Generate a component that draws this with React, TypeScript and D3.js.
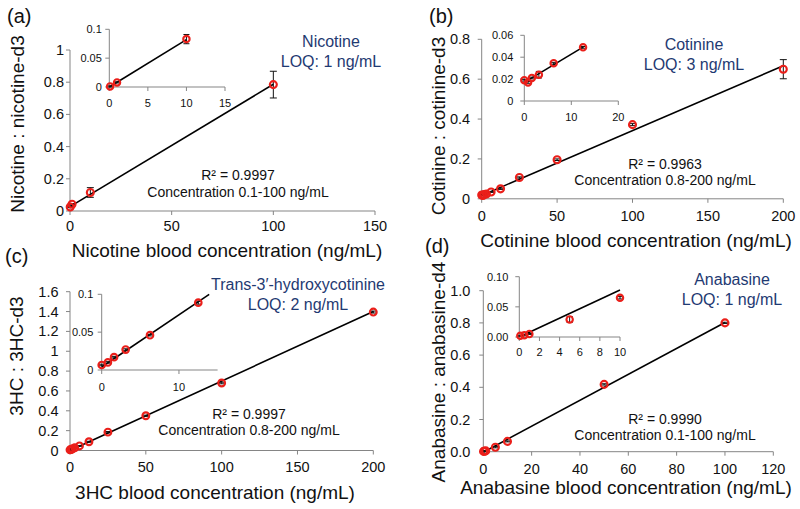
import React from "react";
import * as d3 from "d3";

// ================= DATA =================
// (a) Nicotine
const nicX = [0.1, 1, 10, 100];
const nicY = [0.025, 0.042, 0.115, 0.785];
const nicErr = [0.004, 0.004, 0.03, 0.083];
const nicFit = [0.0076, 0.027, 0, 100]; // slope, intercept, from, to
const nicInsetX = [0.1, 1, 10];
const nicInsetY = [0.001, 0.008, 0.083];
const nicInsetErr = [0.001, 0.001, 0.008];
const nicInsetFit = [0.0082, 0.0, 0, 10];
const nicXTicks = [0, 50, 100, 150];
const nicYTicks = [0, 0.2, 0.4, 0.6, 0.8, 1];
const nicInsetXTicks = [0, 5, 10, 15];
const nicInsetYTicks = [0, 0.05, 0.1];

// (b) Cotinine
const cotX = [0, 0.8, 1.6, 3.1, 6.25, 12.5, 25, 50, 100, 200];
const cotY = [0.019, 0.017, 0.021, 0.024, 0.034, 0.05, 0.107, 0.196, 0.372, 0.65];
const cotErr = [0.002, 0.002, 0.002, 0.003, 0.002, 0.003, 0.003, 0.004, 0.005, 0.048];
const cotFit = [0.00325, 0.017, 0, 200];
const cotInsetX = [0, 0.8, 1.6, 3.1, 6.25, 12.5];
const cotInsetY = [0.019, 0.017, 0.021, 0.024, 0.0345, 0.049];
const cotInsetErr = [0.0008, 0.0008, 0.0008, 0.003, 0.0008, 0.0008];
const cotInsetFit = [0.00258, 0.017, 0.1, 12.5];
const cotXTicks = [0, 50, 100, 150, 200];
const cotYTicks = [0, 0.2, 0.4, 0.6, 0.8];
const cotInsetXTicks = [0, 10, 20];
const cotInsetYTicks = [0, 0.02, 0.04, 0.06];

// (c) 3HC
const hcX = [0, 0.8, 1.6, 3.1, 6.25, 12.5, 25, 50, 100, 200];
const hcY = [0.007, 0.01, 0.017, 0.027, 0.046, 0.088, 0.185, 0.35, 0.68, 1.395];
const hcErr = [0.004, 0.004, 0.004, 0.004, 0.004, 0.005, 0.006, 0.006, 0.008, 0.01];
const hcFit = [0.007, 0.0, 0, 200];
const hcInsetX = [0, 0.8, 1.6, 3.1, 6.25, 12.5];
const hcInsetY = [0.0066, 0.01, 0.017, 0.027, 0.046, 0.089];
const hcInsetErr = [0.001, 0.001, 0.001, 0.001, 0.001, 0.002];
const hcInsetFit = [0.0069, 0.004, 0, 15];
const hcXTicks = [0, 50, 100, 150, 200];
const hcYTicks = [0, 0.2, 0.4, 0.6, 0.8, 1, 1.2, 1.4, 1.6];
const hcInsetXTicks = [0, 10];
const hcInsetYTicks = [0, 0.05, 0.1];

// (d) Anabasine
const anaX = [0.1, 0.5, 1, 5, 10, 50, 100];
const anaY = [0.002, 0.003, 0.005, 0.028, 0.064, 0.418, 0.8];
const anaErr = [0.002, 0.002, 0.002, 0.004, 0.003, 0.004, 0.004];
const anaFit = [0.00805, -0.003, 0, 100];
const anaInsetX = [0.1, 0.5, 1, 5, 10];
const anaInsetY = [0.002, 0.003, 0.005, 0.029, 0.065];
const anaInsetErr = [0.0008, 0.0008, 0.0008, 0.005, 0.002];
const anaInsetFit = [0.0078, 0.0, 0.2, 10];
const anaXTicks = [0, 20, 40, 60, 80, 100, 120];
const anaYTicks = [0, 0.2, 0.4, 0.6, 0.8, 1.0];
const anaInsetXTicks = [0, 2, 4, 6, 8, 10];
const anaInsetYTicks = [0, 0.05, 0.1];

// ================= STYLE =================
const AXIS = "#858585";
const RED = "#ea1f1a";
const NAVY = "#1f3a72";
const TXT = "#111";
const FONT = "Arial, 'Liberation Sans', Helvetica, sans-serif";

type AxesSpec = {
  xDomain: [number, number];
  xRange: [number, number];
  yDomain: [number, number];
  yRange: [number, number];
  xTicks: number[];
  yTicks: number[];
  yFmt: (v: number) => string;
  fontSize: number;
  xLabelDy: number;
  yLabelGap: number;
  x: number[];
  y: number[];
  err: number[];
  fit: number[];
  r: number;
  cap: number;
};

function Plot({ s }: { s: AxesSpec }) {
  const xs = d3.scaleLinear().domain(s.xDomain).range(s.xRange);
  const ys = d3.scaleLinear().domain(s.yDomain).range(s.yRange);
  const x0 = xs(s.xDomain[0]);
  const y0 = ys(s.yDomain[0]);
  const [m, b, from, to] = s.fit;
  const toClip = Math.min(to, (s.yDomain[1] - b) / m);
  const line = d3
    .line<number>()
    .x((v) => xs(v))
    .y((v) => ys(m * v + b));
  const tick = 4;
  return (
    <g>
      <line x1={x0} x2={xs(s.xDomain[1])} y1={y0} y2={y0} stroke={AXIS} strokeWidth={1} />
      <line x1={x0} x2={x0} y1={y0} y2={ys(s.yDomain[1])} stroke={AXIS} strokeWidth={1} />
      {s.xTicks.map((t, i) => (
        <g key={"xt" + i}>
          <line x1={xs(t)} x2={xs(t)} y1={y0} y2={y0 + tick} stroke={AXIS} />
          <text
            x={xs(t)}
            y={y0 + s.xLabelDy}
            textAnchor="middle"
            fontSize={s.fontSize}
            fontFamily={FONT}
            fill={TXT}
          >
            {String(t)}
          </text>
        </g>
      ))}
      {s.yTicks.map((t, i) => (
        <g key={"yt" + i}>
          <line x1={x0 - tick} x2={x0} y1={ys(t)} y2={ys(t)} stroke={AXIS} />
          <text
            x={x0 - s.yLabelGap}
            y={ys(t)}
            dy="0.35em"
            textAnchor="end"
            fontSize={s.fontSize}
            fontFamily={FONT}
            fill={TXT}
          >
            {s.yFmt(t)}
          </text>
        </g>
      ))}
      <path d={line([from, toClip]) || ""} stroke="#000" strokeWidth={1.6} fill="none" />
      {s.x.map((xv, i) => {
        const cx = xs(xv);
        const yt = ys(s.y[i] + s.err[i]);
        const yb = ys(s.y[i] - s.err[i]);
        return (
          <g key={"e" + i} stroke="#111" strokeWidth={1}>
            <line x1={cx} x2={cx} y1={yt} y2={yb} />
            <line x1={cx - s.cap} x2={cx + s.cap} y1={yt} y2={yt} />
            <line x1={cx - s.cap} x2={cx + s.cap} y1={yb} y2={yb} />
          </g>
        );
      })}
      {s.x.map((xv, i) => (
        <circle
          key={"c" + i}
          cx={xs(xv)}
          cy={ys(s.y[i])}
          r={s.r}
          fill="none"
          stroke={RED}
          strokeWidth={2.1}
        />
      ))}
    </g>
  );
}

type PanelSpec = {
  letter: string;
  letterX: number;
  letterY: number;
  main: AxesSpec;
  inset: AxesSpec;
  titleLines: string[];
  titleX: number;
  titleY: number;
  r2: string;
  conc: string;
  noteX: number;
  noteY: number;
  xTitle: string;
  xTitleX: number;
  xTitleY: number;
  yTitle: string;
  yTitleX: number;
  yTitleY: number;
};

const fmtPlain = (v: number) => String(v);
const fmt1 = (v: number) => v.toFixed(1);
const fmt2 = (v: number) => v.toFixed(2);

const MAINF = 14.5;
const INF = 11;

const panels: PanelSpec[] = [
  {
    letter: "(a)",
    letterX: 7,
    letterY: 23,
    main: {
      xDomain: [0, 150], xRange: [70, 375], yDomain: [0, 1], yRange: [211, 50],
      xTicks: nicXTicks, yTicks: nicYTicks, yFmt: fmtPlain, fontSize: MAINF,
      xLabelDy: 19.5, yLabelGap: 6, x: nicX, y: nicY, err: nicErr, fit: nicFit, r: 3.5, cap: 3.5,
    },
    inset: {
      xDomain: [0, 15], xRange: [109.3, 225], yDomain: [0, 0.1], yRange: [87, 29.3],
      xTicks: nicInsetXTicks, yTicks: nicInsetYTicks, yFmt: fmtPlain, fontSize: INF,
      xLabelDy: 19.5, yLabelGap: 7.5, x: nicInsetX, y: nicInsetY, err: nicInsetErr, fit: nicInsetFit, r: 3.2, cap: 3,
    },
    titleLines: ["Nicotine", "LOQ: 1 ng/mL"],
    titleX: 331,
    titleY: 47,
    r2: "R² = 0.9997",
    conc: "Concentration 0.1-100 ng/mL",
    noteX: 238,
    noteY: 180,
    xTitle: "Nicotine blood concentration (ng/mL)",
    xTitleX: 227,
    xTitleY: 256.5,
    yTitle: "Nicotine : nicotine-d3",
    yTitleX: 17,
    yTitleY: 124,
  },
  {
    letter: "(b)",
    letterX: 429,
    letterY: 23,
    main: {
      xDomain: [0, 200], xRange: [481.7, 783.3], yDomain: [0, 0.8], yRange: [198.8, 39.3],
      xTicks: cotXTicks, yTicks: cotYTicks, yFmt: fmtPlain, fontSize: MAINF,
      xLabelDy: 21.8, yLabelGap: 11.5, x: cotX, y: cotY, err: cotErr, fit: cotFit, r: 3.5, cap: 3.5,
    },
    inset: {
      xDomain: [0, 20], xRange: [524.3, 618.3], yDomain: [0, 0.06], yRange: [101, 35.3],
      xTicks: cotInsetXTicks, yTicks: cotInsetYTicks, yFmt: fmtPlain, fontSize: INF,
      xLabelDy: 19.5, yLabelGap: 11, x: cotInsetX, y: cotInsetY, err: cotInsetErr, fit: cotInsetFit, r: 3.2, cap: 3,
    },
    titleLines: ["Cotinine", "LOQ: 3 ng/mL"],
    titleX: 694,
    titleY: 50,
    r2: "R² = 0.9963",
    conc: "Concentration 0.8-200 ng/mL",
    noteX: 665,
    noteY: 168.5,
    xTitle: "Cotinine blood concentration (ng/mL)",
    xTitleX: 636,
    xTitleY: 247,
    yTitle: "Cotinine : cotinine-d3",
    yTitleX: 438,
    yTitleY: 126,
  },
  {
    letter: "(c)",
    letterX: 5,
    letterY: 263,
    main: {
      xDomain: [0, 200], xRange: [70, 373.3], yDomain: [0, 1.6], yRange: [450.5, 291.7],
      xTicks: hcXTicks, yTicks: hcYTicks, yFmt: fmtPlain, fontSize: MAINF,
      xLabelDy: 21, yLabelGap: 11.5, x: hcX, y: hcY, err: hcErr, fit: hcFit, r: 3.4, cap: 3.5,
    },
    inset: {
      xDomain: [0, 15], xRange: [101.7, 217.6], yDomain: [0, 0.1], yRange: [370, 294.3],
      xTicks: hcInsetXTicks, yTicks: hcInsetYTicks, yFmt: fmtPlain, fontSize: INF,
      xLabelDy: 20.5, yLabelGap: 8.4, x: hcInsetX, y: hcInsetY, err: hcInsetErr, fit: hcInsetFit, r: 3.3, cap: 3,
    },
    titleLines: ["Trans-3′-hydroxycotinine", "LOQ: 2 ng/mL"],
    titleX: 298,
    titleY: 290,
    r2: "R² = 0.9997",
    conc: "Concentration 0.8-200 ng/mL",
    noteX: 249,
    noteY: 418.5,
    xTitle: "3HC blood concentration (ng/mL)",
    xTitleX: 215,
    xTitleY: 499,
    yTitle: "3HC : 3HC-d3",
    yTitleX: 16.5,
    yTitleY: 356,
  },
  {
    letter: "(d)",
    letterX: 425,
    letterY: 253,
    main: {
      xDomain: [0, 120], xRange: [483.3, 773.3], yDomain: [0, 1], yRange: [451.7, 290.7],
      xTicks: anaXTicks, yTicks: anaYTicks, yFmt: fmt1, fontSize: MAINF,
      xLabelDy: 22.3, yLabelGap: 13, x: anaX, y: anaY, err: anaErr, fit: anaFit, r: 3.5, cap: 3.5,
    },
    inset: {
      xDomain: [0, 10], xRange: [519.3, 620], yDomain: [0, 0.1], yRange: [337, 276.7],
      xTicks: anaInsetXTicks, yTicks: anaInsetYTicks, yFmt: fmt2, fontSize: INF,
      xLabelDy: 18.5, yLabelGap: 11, x: anaInsetX, y: anaInsetY, err: anaInsetErr, fit: anaInsetFit, r: 3.2, cap: 3,
    },
    titleLines: ["Anabasine", "LOQ: 1 ng/mL"],
    titleX: 732,
    titleY: 285,
    r2: "R² = 0.9990",
    conc: "Concentration 0.1-100 ng/mL",
    noteX: 665,
    noteY: 423.5,
    xTitle: "Anabasine blood concentration (ng/mL)",
    xTitleX: 626,
    xTitleY: 493.5,
    yTitle: "Anabasine : anabasine-d4",
    yTitleX: 438.5,
    yTitleY: 372,
  },
];

function Panel({ p }: { p: PanelSpec }) {
  return (
    <g>
      <text x={p.letterX} y={p.letterY} fontSize={20} fontFamily={FONT} fill={TXT}>
        {p.letter}
      </text>
      <Plot s={p.main} />
      <Plot s={p.inset} />
      {p.titleLines.map((t, i) => (
        <text
          key={i}
          x={p.titleX}
          y={p.titleY + i * 20}
          textAnchor="middle"
          fontSize={16}
          fontFamily={FONT}
          fill={NAVY}
        >
          {t}
        </text>
      ))}
      <text x={p.noteX} y={p.noteY} textAnchor="middle" fontSize={14} fontFamily={FONT} fill={TXT}>
        {p.r2}
      </text>
      <text x={p.noteX} y={p.noteY + 16.5} textAnchor="middle" fontSize={14} fontFamily={FONT} fill={TXT}>
        {p.conc}
      </text>
      <text x={p.xTitleX} y={p.xTitleY} textAnchor="middle" fontSize={19} fontFamily={FONT} fill={TXT}>
        {p.xTitle}
      </text>
      <text
        transform={`translate(${p.yTitleX},${p.yTitleY}) rotate(-90)`}
        textAnchor="middle"
        dy="0.35em"
        fontSize={19}
        fontFamily={FONT}
        fill={TXT}
      >
        {p.yTitle}
      </text>
    </g>
  );
}

export default function App() {
  return (
    <svg
      width={800}
      height={509}
      viewBox="0 0 800 509"
      style={{ position: "absolute", left: 0, top: 0, background: "#fff" }}
    >
      <rect width={800} height={509} fill="#fff" />
      {panels.map((p, i) => (
        <Panel key={i} p={p} />
      ))}
    </svg>
  );
}
